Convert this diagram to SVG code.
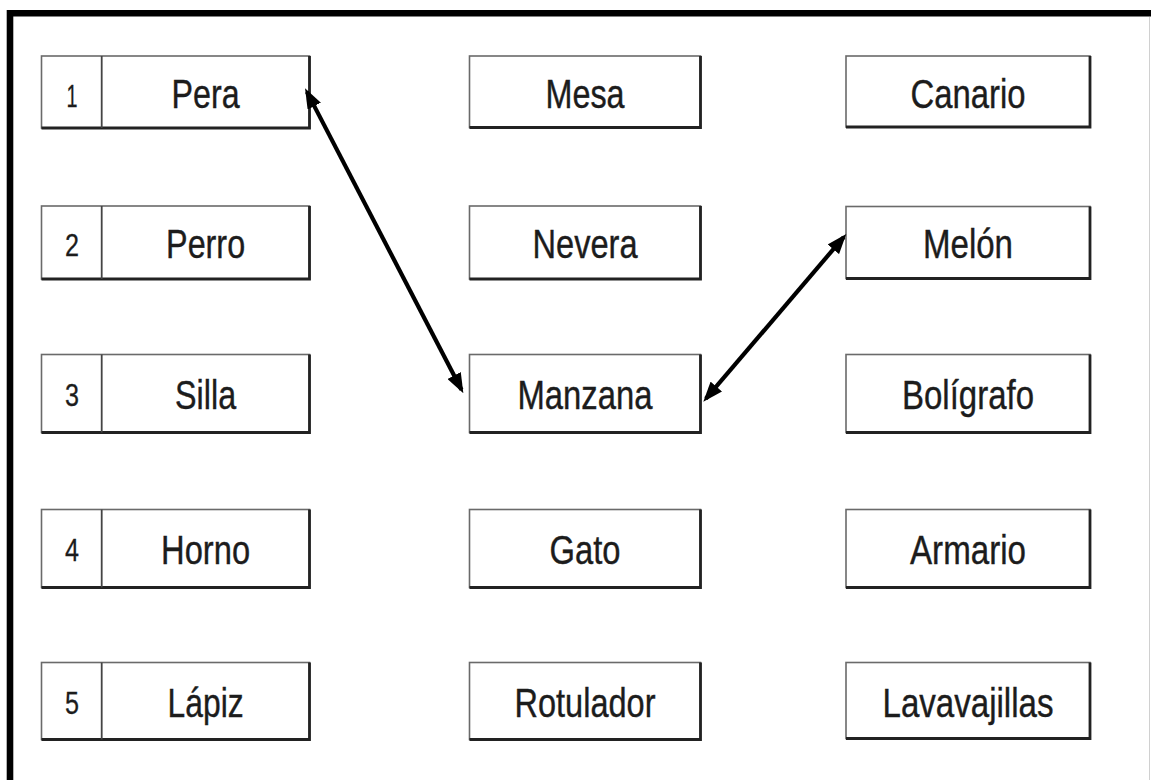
<svg xmlns="http://www.w3.org/2000/svg" width="1151" height="780" viewBox="0 0 1151 780">
<defs>
<style>
.box{fill:#fff;stroke:#6a6a6a;stroke-width:1.6}
.shd{fill:none;stroke:#222;stroke-width:2.8}
.div{stroke:#444;stroke-width:1.8}
.lbl{font-family:"Liberation Sans",Arial,sans-serif;font-size:40px;fill:#1c1c1c;stroke:#1c1c1c;stroke-width:0.4;text-anchor:middle}
.num{font-family:"Liberation Sans",Arial,sans-serif;font-size:31px;fill:#1c1c1c;stroke:#1c1c1c;stroke-width:0.3;text-anchor:middle}
.conn{stroke:#000;stroke-width:4.2;fill:none;marker-start:url(#ah);marker-end:url(#ah)}
</style>
<marker id="ah" markerUnits="userSpaceOnUse" markerWidth="20" markerHeight="15" refX="16" refY="7.5" orient="auto-start-reverse" viewBox="0 0 20 15">
<path d="M0,0 L20,7.5 L0,15 z" fill="#000"/>
</marker>
</defs>
<rect width="1151" height="780" fill="#fff"/>
<path d="M10,780 V13.3 H1151" fill="none" stroke="#000" stroke-width="6.6"/>
<line x1="1149.5" y1="17" x2="1149.5" y2="780" stroke="#d0d0d0" stroke-width="1"/>

<g id="n1"><rect class="box" x="41.5" y="56" width="268" height="72"/><path class="shd" d="M309.5,56 V128 H41.5"/><line class="div" x1="101.7" y1="56" x2="101.7" y2="128"/><text class="num" x="72" y="107" textLength="11" lengthAdjust="spacingAndGlyphs">1</text><text class="lbl" x="205.6" y="108" textLength="68" lengthAdjust="spacingAndGlyphs">Pera</text></g>
<g id="n2"><rect class="box" x="41.5" y="206" width="268" height="73"/><path class="shd" d="M309.5,206 V279 H41.5"/><line class="div" x1="101.7" y1="206" x2="101.7" y2="279"/><text class="num" x="72" y="256" textLength="14" lengthAdjust="spacingAndGlyphs">2</text><text class="lbl" x="205.6" y="258" textLength="79" lengthAdjust="spacingAndGlyphs">Perro</text></g>
<g id="n3"><rect class="box" x="41.5" y="354.5" width="268" height="78"/><path class="shd" d="M309.5,354.5 V432.5 H41.5"/><line class="div" x1="101.7" y1="354.5" x2="101.7" y2="432.5"/><text class="num" x="72" y="406" textLength="14" lengthAdjust="spacingAndGlyphs">3</text><text class="lbl" x="205.6" y="409" textLength="61" lengthAdjust="spacingAndGlyphs">Silla</text></g>
<g id="n4"><rect class="box" x="41.5" y="509.5" width="268" height="78"/><path class="shd" d="M309.5,509.5 V587.5 H41.5"/><line class="div" x1="101.7" y1="509.5" x2="101.7" y2="587.5"/><text class="num" x="72" y="561" textLength="14" lengthAdjust="spacingAndGlyphs">4</text><text class="lbl" x="205.6" y="564" textLength="89" lengthAdjust="spacingAndGlyphs">Horno</text></g>
<g id="n5"><rect class="box" x="41.5" y="662.5" width="268" height="77"/><path class="shd" d="M309.5,662.5 V739.5 H41.5"/><line class="div" x1="101.7" y1="662.5" x2="101.7" y2="739.5"/><text class="num" x="72" y="714" textLength="14" lengthAdjust="spacingAndGlyphs">5</text><text class="lbl" x="205.6" y="717" textLength="76" lengthAdjust="spacingAndGlyphs">Lápiz</text></g>

<g id="mesa"><rect class="box" x="469.5" y="56" width="231" height="71.5"/><path class="shd" d="M700.5,56 V127.5 H469.5"/><text class="lbl" x="585" y="108" textLength="79" lengthAdjust="spacingAndGlyphs">Mesa</text></g>
<g id="nevera"><rect class="box" x="469.5" y="206" width="231" height="73"/><path class="shd" d="M700.5,206 V279 H469.5"/><text class="lbl" x="585" y="258" textLength="105" lengthAdjust="spacingAndGlyphs">Nevera</text></g>
<g id="manzana"><rect class="box" x="469.5" y="354.5" width="231" height="78"/><path class="shd" d="M700.5,354.5 V432.5 H469.5"/><text class="lbl" x="585" y="409" textLength="135" lengthAdjust="spacingAndGlyphs">Manzana</text></g>
<g id="gato"><rect class="box" x="469.5" y="509.5" width="231" height="78"/><path class="shd" d="M700.5,509.5 V587.5 H469.5"/><text class="lbl" x="585" y="564" textLength="71" lengthAdjust="spacingAndGlyphs">Gato</text></g>
<g id="rotulador"><rect class="box" x="469.5" y="662.5" width="231" height="77"/><path class="shd" d="M700.5,662.5 V739.5 H469.5"/><text class="lbl" x="585" y="717" textLength="141" lengthAdjust="spacingAndGlyphs">Rotulador</text></g>

<g id="canario"><rect class="box" x="846" y="56" width="244" height="71"/><path class="shd" d="M1090,56 V127 H846"/><text class="lbl" x="968" y="108" textLength="115" lengthAdjust="spacingAndGlyphs">Canario</text></g>
<g id="melon"><rect class="box" x="846" y="206.5" width="244" height="72"/><path class="shd" d="M1090,206.5 V278.5 H846"/><text class="lbl" x="968" y="258" textLength="90" lengthAdjust="spacingAndGlyphs">Melón</text></g>
<g id="boligrafo"><rect class="box" x="846" y="354.5" width="244" height="78"/><path class="shd" d="M1090,354.5 V432.5 H846"/><text class="lbl" x="968" y="409" textLength="132" lengthAdjust="spacingAndGlyphs">Bolígrafo</text></g>
<g id="armario"><rect class="box" x="846" y="509.5" width="244" height="78"/><path class="shd" d="M1090,509.5 V587.5 H846"/><text class="lbl" x="968" y="564" textLength="116" lengthAdjust="spacingAndGlyphs">Armario</text></g>
<g id="lavavajillas"><rect class="box" x="846" y="662.5" width="244" height="76"/><path class="shd" d="M1090,662.5 V738.5 H846"/><text class="lbl" x="968" y="717" textLength="171" lengthAdjust="spacingAndGlyphs">Lavavajillas</text></g>

<g id="connectors">
<line class="conn" x1="306.9" y1="91.9" x2="461.5" y2="389.7"/>
<line class="conn" x1="705.9" y1="398.7" x2="843.7" y2="237.1"/>
</g>
</svg>
